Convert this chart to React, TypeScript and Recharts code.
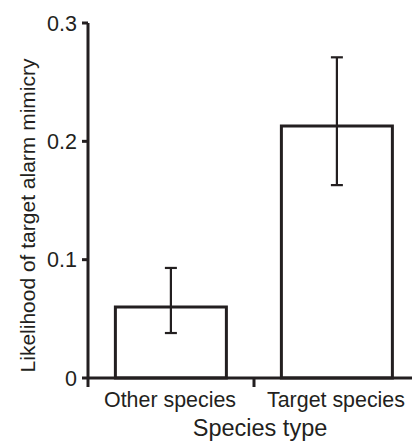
import { BarChart, Bar, XAxis, YAxis, ErrorBar } from "recharts";

const species = ["Other species", "Target species"];
const likelihood = [0.06, 0.213];
const errLow = [0.022, 0.05];
const errHigh = [0.033, 0.058];
const yTicks = [0, 0.1, 0.2, 0.3];

const rows = species.map((name, i) => ({
  name,
  value: likelihood[i],
  err: [errLow[i], errHigh[i]],
}));

const INK = "#231f20";
const FONT = "'Liberation Sans', Arial, sans-serif";

// category ticks sit between the bands, not under the bar centres
function SpeciesTick(props: any) {
  const { x, y, payload } = props;
  const edge = x - (payload.offset ?? 0);
  return (
    <g>
      <line x1={edge} x2={edge} y1={y} y2={y + 9} stroke={INK} strokeWidth={3} />
      <text x={x - 1} y={y + 29} textAnchor="middle" fontSize={21.4} fill={INK} fontFamily={FONT}>
        {payload.value}
      </text>
    </g>
  );
}

export default function App() {
  return (
    <div style={{ width: 412, height: 442, overflow: "hidden", background: "#fff" }}>
      <style>{"html,body{margin:0;overflow:hidden}"}</style>
      <BarChart
        width={420}
        height={442}
        data={rows}
        margin={{ top: 23, right: 0, bottom: 0, left: 0 }}
        barCategoryGap="16.5%"
        style={{ fontFamily: FONT }}
      >
        <XAxis
          dataKey="name"
          height={64}
          stroke={INK}
          axisLine={{ stroke: INK, strokeWidth: 3 }}
          tickLine={false}
          tickSize={0}
          tickMargin={0}
          tick={<SpeciesTick />}
          interval={0}
          label={{
            value: "Species type",
            position: "insideBottom",
            offset: 6,
            dx: 6,
            fontSize: 23.5,
            fill: INK,
            fontFamily: FONT,
          }}
        />
        <YAxis
          type="number"
          domain={[0, 0.3]}
          ticks={yTicks}
          width={88}
          stroke={INK}
          axisLine={{ stroke: INK, strokeWidth: 3 }}
          tickLine={{ stroke: INK, strokeWidth: 3 }}
          tickSize={6}
          tickMargin={5}
          tick={{ fontSize: 21.5, fill: INK, fontFamily: FONT }}
          tickFormatter={(v: number) => (v === 0 ? "0" : v.toFixed(1))}
          label={{
            value: "Likelihood of target alarm mimicry",
            angle: -90,
            position: "center",
            dx: -16,
            dy: 15,
            fontSize: 21,
            fill: INK,
            fontFamily: FONT,
          }}
        />
        <Bar dataKey="value" fill="#fff" stroke={INK} strokeWidth={3} isAnimationActive={false}>
          <ErrorBar dataKey="err" width={6} stroke={INK} strokeWidth={2.2} isAnimationActive={false} />
        </Bar>
      </BarChart>
    </div>
  );
}
